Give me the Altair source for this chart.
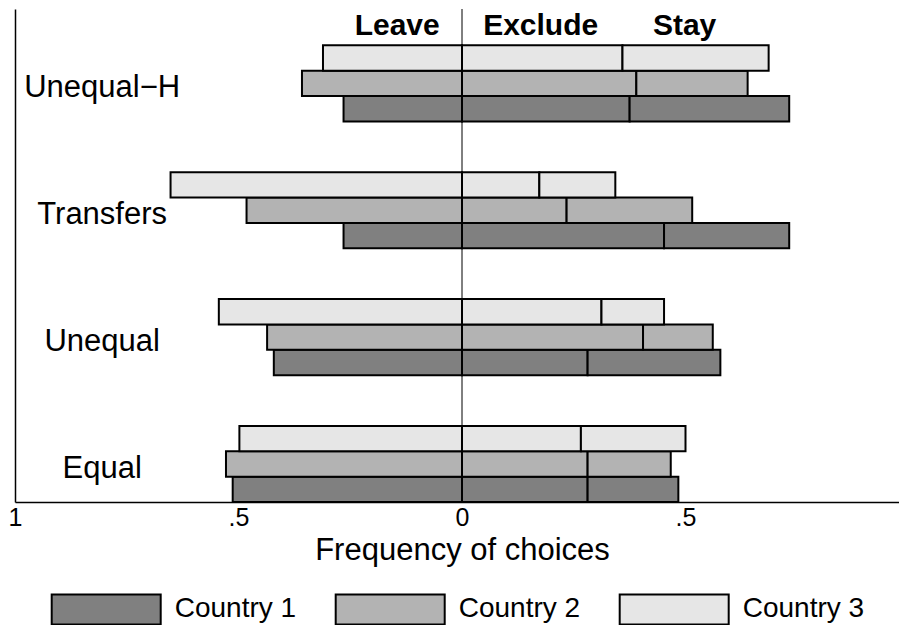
import altair as alt
import pandas as pd

# ---- data ----
categories = ["Equal", "Unequal", "Transfers", "Unequal\u2212H"]
countries = ["Country 1", "Country 2", "Country 3"]
choices = ["Leave", "Exclude", "Stay"]

leave = {
    "Country 1": [0.513, 0.421, 0.265, 0.265],
    "Country 2": [0.528, 0.436, 0.482, 0.358],
    "Country 3": [0.498, 0.544, 0.652, 0.311],
}
exclude = {
    "Country 1": [0.281, 0.281, 0.452, 0.375],
    "Country 2": [0.281, 0.405, 0.234, 0.390],
    "Country 3": [0.266, 0.312, 0.173, 0.359],
}
stay = {
    "Country 1": [0.203, 0.297, 0.280, 0.357],
    "Country 2": [0.186, 0.156, 0.281, 0.249],
    "Country 3": [0.234, 0.140, 0.170, 0.327],
}

header_x = [-0.145, 0.176, 0.498]
tick_values = [-1, -0.5, 0, 0.5, 1]
zero_line = [0]
colors = ["#808080", "#b3b3b3", "#e6e6e6"]

FONT = "Liberation Sans"

# ---- build tables ----
rows = []
for gi, cat in enumerate(categories):
    for ci, c in enumerate(countries):
        pos = gi * 5 + ci
        l, e, s = leave[c][gi], exclude[c][gi], stay[c][gi]
        segs = [("Leave", -l, 0.0), ("Exclude", 0.0, e), ("Stay", e, e + s)]
        for name, a, b in segs:
            rows.append({"category": cat, "country": c, "choice": name,
                         "x0": a, "x1": b, "y0": pos - 0.5, "y1": pos + 0.5})
bars_df = pd.DataFrame(rows)

labels_df = pd.DataFrame({"category": categories,
                          "pos": [gi * 5 + 1 for gi in range(len(categories))]})
header_df = pd.DataFrame({"choice": choices, "x": header_x})
zero_df = pd.DataFrame({"x": zero_line})

xscale = alt.Scale(domain=[-1, 1], nice=False, zero=False)
yscale = alt.Scale(domain=[-0.5, 18.93], nice=False, zero=False)

bars = alt.Chart(bars_df).mark_bar(stroke="black", strokeWidth=2, opacity=1).encode(
    x=alt.X("x0:Q", scale=xscale, axis=alt.Axis(
        values=tick_values,
        labelExpr="datum.value == 0 ? '0' : (abs(datum.value) == 1 ? '1' : '.5')",
        labelFont=FONT, labelFontSize=25, labelColor="black", labelPadding=3,
        labelFlush=False, ticks=False, grid=False,
        domainColor="black", domainWidth=1.5,
        title="Frequency of choices", titleFont=FONT, titleFontSize=31,
        titleFontWeight="normal", titleColor="black", titlePadding=5)),
    x2="x1:Q",
    y=alt.Y("y0:Q", scale=yscale, axis=alt.Axis(
        labels=False, ticks=False, grid=False, title=None,
        domainColor="black", domainWidth=1.5)),
    y2="y1:Q",
    fill=alt.Fill("country:N",
                  scale=alt.Scale(domain=countries, range=colors),
                  legend=alt.Legend(
                      title=None, orient="none", legendX=35.7, legendY=544.7,
                      direction="horizontal", columns=3, columnPadding=35,
                      symbolType="M-1,-0.2752H1V0.2752H-1Z", symbolSize=11881,
                      symbolStrokeColor="black", symbolStrokeWidth=2,
                      symbolOpacity=1, labelFont=FONT, labelFontSize=28,
                      labelColor="black", labelOffset=13, labelLimit=400,
                      padding=0)),
)

zero_rule = alt.Chart(zero_df).mark_rule(color="black", strokeWidth=1).encode(
    x=alt.X("x:Q")
)

cat_labels = alt.Chart(labels_df).mark_text(
    font=FONT, fontSize=31, color="black", align="center", baseline="middle", dy=5
).encode(
    x=alt.datum(-0.805),
    y=alt.Y("pos:Q"),
    text="category:N",
)

headers = alt.Chart(header_df).mark_text(
    font=FONT, fontSize=30, fontWeight="bold", color="black",
    align="center", baseline="alphabetic"
).encode(
    x=alt.X("x:Q"),
    y=alt.value(26),
    text="choice:N",
)

chart = alt.layer(bars, zero_rule, cat_labels, headers).properties(
    width=894, height=493,
    autosize=alt.AutoSizeParams(type="none"),
    padding={"left": 7, "top": 1, "right": -10, "bottom": 123},
    background="white",
).configure_view(stroke=None)

chart.save("out.html", embed_options={"renderer": "svg", "actions": False})
